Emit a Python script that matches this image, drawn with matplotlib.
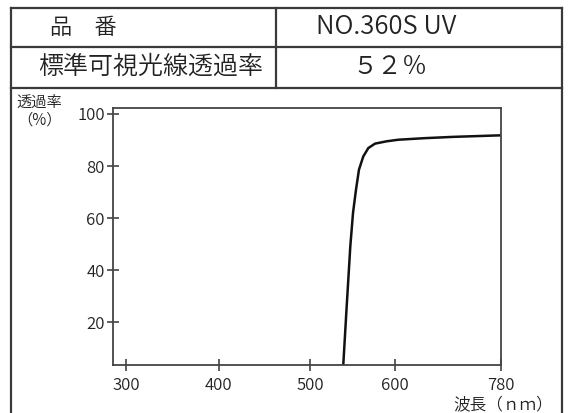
import numpy as np
import matplotlib
matplotlib.use('Agg')
import matplotlib.pyplot as plt
from matplotlib.lines import Line2D

plt.rcParams['font.family'] = ['Noto Sans CJK JP', 'DejaVu Sans']
plt.rcParams['font.weight'] = 350

# ── データ ─────────────────────────────────────
wavelength = [538.5, 542.7, 547.4, 550.6, 554.1, 557.6, 562.7, 568.6,
              576.5, 590.2, 605.6, 650.0, 698.5, 780.0]
transmit = [0.0, 23.6, 49.1, 62.0, 70.9, 78.6, 83.7, 86.9,
            88.6, 89.5, 90.1, 90.7, 91.2, 91.8]

x_ticks = [300, 400, 500, 600, 780]
x_tick_pos = [126, 218.7, 310, 395, 501]   # 印刷された目盛の相対位置 (非線形)
y_ticks = [20, 40, 60, 80, 100]

hinban = 'NO.360S UV'
visible = '５２％'

W, H = 569, 413
fig = plt.figure(figsize=(W / 100, H / 100), dpi=100)


def fx(px):
    return px / W


def fy(py):
    return 1 - py / H


# ── 非線形 x スケール ───────────────────────────
s0 = (x_tick_pos[1] - x_tick_pos[0]) / (x_ticks[1] - x_ticks[0])
s1 = (x_tick_pos[-1] - x_tick_pos[-2]) / (x_ticks[-1] - x_ticks[-2])
KN = [x_ticks[0] - 1000] + x_ticks + [x_ticks[-1] + 1000]
KP = [x_tick_pos[0] - 1000 * s0] + x_tick_pos + [x_tick_pos[-1] + 1000 * s1]


def fwd(x):
    return np.interp(np.asarray(x, float), KN, KP)


def inv(y):
    return np.interp(np.asarray(y, float), KP, KN)


# ── 枠 ────────────────────────────────────────
FRAME = '#3a3a3a'
lw = 1.6
L, R, T = 11, 562, 7.5
for y in (T, 47, 88):
    fig.add_artist(Line2D([fx(L), fx(R)], [fy(y), fy(y)], color=FRAME, lw=lw))
for x in (L, R):
    fig.add_artist(Line2D([fx(x), fx(x)], [fy(T), 0], color=FRAME, lw=lw))
fig.add_artist(Line2D([fx(276), fx(276)], [fy(T), fy(88)], color=FRAME, lw=lw))

TXT = '#222'
fig.text(fx(50), fy(28), '品　番', fontsize=16, ha='left', va='center', color=TXT)
fig.text(fx(38), fy(67), '標準可視光線透過率', fontsize=18, ha='left', va='center', color=TXT)
fig.text(fx(386), fy(27), hinban, fontsize=18.5, ha='center', va='center', color=TXT)
fig.text(fx(390), fy(67), visible, fontsize=18, ha='center', va='center', color=TXT)

# ── グラフ ────────────────────────────────────
ax = fig.add_axes([fx(112.5), fy(365), (501 - 112.5) / W, (365 - 108) / H])
ax.set_xscale('function', functions=(fwd, inv))
ax.plot(wavelength, transmit, color='#111', lw=1.8, solid_joinstyle='round')
ax.set_xlim(285.4, 780)
ax.set_ylim(3.5, 102.3)

ax.set_xticks(x_ticks)
ax.set_xticklabels([str(v) for v in x_ticks])
ax.set_yticks(y_ticks)
ax.set_yticklabels([str(v) for v in y_ticks])
ax.minorticks_off()
ax.tick_params(axis='both', direction='inout', length=9, width=1.2,
               color='#444', labelsize=12, labelcolor=TXT)
ax.tick_params(axis='x', pad=4.5)
ax.tick_params(axis='y', pad=1)
for sp in ax.spines.values():
    sp.set_color('#444')
    sp.set_linewidth(1.3)

fig.text(fx(39), fy(102), '透過率', fontsize=11, ha='center', va='center', color=TXT)
fig.text(fx(40), fy(120), '（%）', fontsize=11, ha='center', va='center', color=TXT)
fig.text(fx(503), fy(405), '波長（ｎｍ）', fontsize=12, ha='center', va='center', color=TXT)

fig.savefig('out.png', dpi=100, facecolor='white')
